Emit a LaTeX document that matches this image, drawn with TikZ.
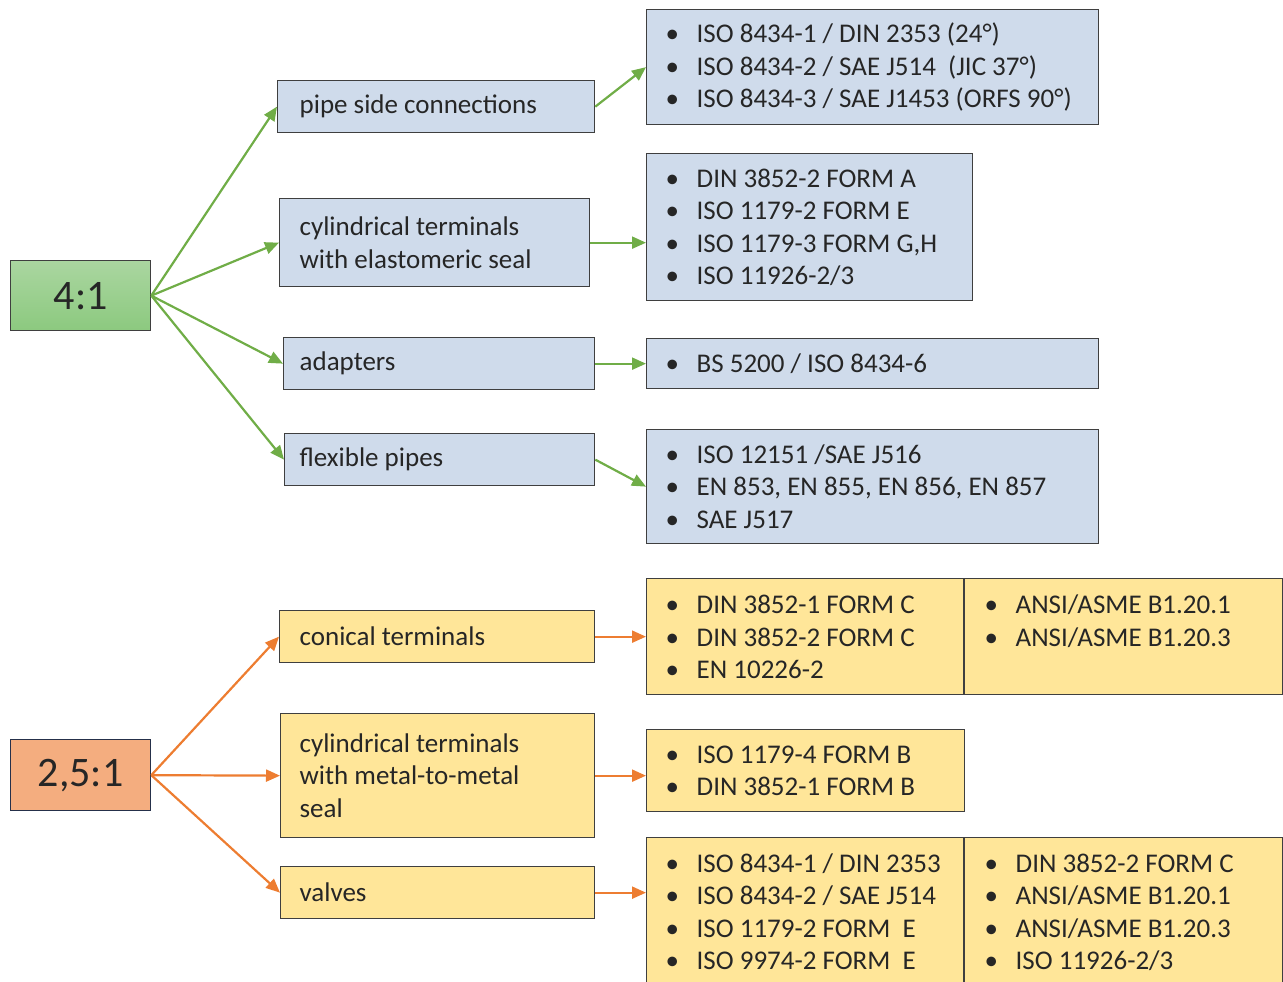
\documentclass[tikz,border=0pt]{standalone}
\usepackage{fontspec}
\setmainfont{Carlito}
\usetikzlibrary{arrows.meta}
\definecolor{bluefill}{HTML}{CFDBEB}
\definecolor{yellowfill}{HTML}{FFE699}
\definecolor{boxline}{HTML}{3F3F3F}
\definecolor{greenarrow}{HTML}{70AD47}
\definecolor{orangearrow}{HTML}{ED7D31}
\definecolor{greentop}{HTML}{AAD6A0}
\definecolor{greenbot}{HTML}{8CC97F}
\definecolor{orangefill}{HTML}{F4AD7F}
\definecolor{navyline}{HTML}{25304A}
\newcommand\itm{\makebox[31pt][l]{\textbullet}}
\tikzset{
  basebox/.style={draw=boxline, line width=1.3pt, anchor=north west, inner ysep=0pt, align=flush left,
    font={\fontsize{27}{32.5}\selectfont}, text=black!85},
  bluebox/.style={basebox, fill=bluefill},
  yellowbox/.style={basebox, fill=yellowfill},
  ratio/.style={anchor=north west, inner sep=0pt, line width=1.3pt,
    font={\fontsize{42}{48}\selectfont}, text=black!85},
  garrow/.style={draw=greenarrow, line width=2.2pt, -{Triangle[length=14pt,width=12pt]}},
  oarrow/.style={draw=orangearrow, line width=2.2pt, -{Triangle[length=14pt,width=12pt]}},
  divider/.style={draw=boxline, line width=1.3pt}
}
\begin{document}
\begin{tikzpicture}[x=1pt,y=-1pt]
\useasboundingbox (0,0) rectangle (1283,982);

% ratio boxes
\node[ratio, draw=boxline, top color=greentop, bottom color=greenbot,
  minimum width=140pt, minimum height=70pt] (g41) at (10,260) {4:1};
\node[ratio, draw=navyline, fill=orangefill,
  minimum width=140pt, minimum height=71pt] (o25) at (10,739) {2,5:1};

% middle boxes (4:1)
\node[bluebox, text width=273pt, inner xsep=22pt, minimum height=52pt] (pipe) at (277,80) {pipe side connections};
\node[bluebox, text width=270pt, inner xsep=20pt, minimum height=88pt] (cyl) at (279,198) {cylindrical terminals\\with elastomeric seal};
\node[bluebox, text width=279pt, inner xsep=16pt, minimum height=52pt] (adapt) at (283,337) {adapters};
\node[bluebox, text width=280pt, inner xsep=15pt, minimum height=52pt] (flex) at (284,433) {flexible pipes};

% list boxes (4:1)
\node[bluebox, text width=414pt, inner xsep=19pt, minimum height=115pt] (toplist) at (646,9)
  {\itm ISO 8434-1 / DIN 2353 (24°)\\\itm ISO 8434-2 / SAE J514~ (JIC 37°)\\\itm ISO 8434-3 / SAE J1453 (ORFS 90°)};
\node[bluebox, text width=288pt, inner xsep=19pt, minimum height=147pt] (cyllist) at (646,153)
  {\itm DIN 3852-2 FORM A\\\itm ISO 1179-2 FORM E\\\itm ISO 1179-3 FORM G,H\\\itm ISO 11926-2/3};
\node[bluebox, text width=414pt, inner xsep=19pt, minimum height=50pt] (adaptlist) at (646,338)
  {\itm BS 5200 / ISO 8434-6};
\node[bluebox, text width=414pt, inner xsep=19pt, minimum height=114pt] (flexlist) at (646,429)
  {\itm ISO 12151 /SAE J516\\\itm EN 853, EN 855, EN 856, EN 857\\\itm SAE J517};

% middle boxes (2,5:1)
\node[yellowbox, text width=275pt, inner xsep=20pt, minimum height=52pt] (conical) at (279,610) {conical terminals};
\node[yellowbox, text width=276pt, inner xsep=19pt, minimum height=124pt] (metal) at (280,713) {cylindrical terminals\\with metal-to-metal\\seal};
\node[yellowbox, text width=276pt, inner xsep=19pt, minimum height=52pt] (valves) at (280,866) {valves};

% list boxes (2,5:1)
\node[yellowbox, text width=598pt, inner xsep=19pt, minimum height=116pt] (conlist) at (646,578)
  {\begin{tabular}{@{}p{299pt}@{\hspace{20pt}}p{279pt}@{}}\noalign{\vspace{6pt}}
   \itm DIN 3852-1 FORM C\newline\itm DIN 3852-2 FORM C\newline\itm EN 10226-2 &
   \itm ANSI/ASME B1.20.1\newline\itm ANSI/ASME B1.20.3
   \end{tabular}};
\draw[divider] (964,578) -- (964,694);
\node[yellowbox, text width=280pt, inner xsep=19pt, minimum height=82pt] (metallist) at (646,729)
  {\itm ISO 1179-4 FORM B\\\itm DIN 3852-1 FORM B};
\node[yellowbox, text width=598pt, inner xsep=19pt, minimum height=148pt] (vallist) at (646,837)
  {\begin{tabular}{@{}p{299pt}@{\hspace{20pt}}p{279pt}@{}}\noalign{\vspace{6pt}}
   \itm ISO 8434-1 / DIN 2353\newline\itm ISO 8434-2 / SAE J514\newline\itm ISO 1179-2 FORM~ E\newline\itm ISO 9974-2 FORM~ E &
   \itm DIN 3852-2 FORM C\newline\itm ANSI/ASME B1.20.1\newline\itm ANSI/ASME B1.20.3\newline\itm ISO 11926-2/3
   \end{tabular}};
\draw[divider] (964,837) -- (964,990);

% green connectors
\draw[garrow] (g41.east) -- (pipe.west);
\draw[garrow] (g41.east) -- (cyl.west);
\draw[garrow] (g41.east) -- (adapt.west);
\draw[garrow] (g41.east) -- (flex.west);
\draw[garrow] (pipe.east) -- (toplist.west);
\draw[garrow] (cyl.east) -- (cyl.east -| cyllist.west);
\draw[garrow] (adapt.east) -- (adaptlist.west);
\draw[garrow] (flex.east) -- (flexlist.west);

% orange connectors
\draw[oarrow] (o25.east) -- (conical.west);
\draw[oarrow] (o25.east) -- (metal.west);
\draw[oarrow] (o25.east) -- (valves.west);
\draw[oarrow] (conical.east) -- (conical.east -| conlist.west);
\draw[oarrow] (metal.east) -- (metal.east -| metallist.west);
\draw[oarrow] (valves.east) -- (valves.east -| vallist.west);
\end{tikzpicture}
\end{document}
